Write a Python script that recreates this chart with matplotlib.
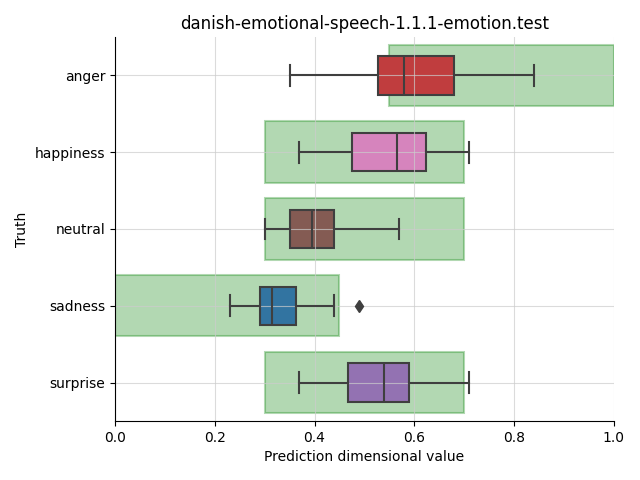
import matplotlib
matplotlib.use("Agg")
import matplotlib.pyplot as plt
import matplotlib.colors as mcolors
import colorsys

categories = ["anger", "happiness", "neutral", "sadness", "surprise"]
whislo = [0.351, 0.369, 0.300, 0.230, 0.369]
q1 = [0.528, 0.475, 0.350, 0.290, 0.468]
med = [0.579, 0.565, 0.395, 0.314, 0.539]
q3 = [0.679, 0.623, 0.440, 0.363, 0.590]
whishi = [0.840, 0.709, 0.569, 0.439, 0.709]
fliers = [[], [], [], [0.490], []]
range_lo = [0.55, 0.30, 0.30, 0.00, 0.30]
range_hi = [1.00, 0.70, 0.70, 0.45, 0.70]
base_colors = ["#d62728", "#e377c2", "#8c564b", "#1f77b4", "#9467bd"]


def desat(c, p=0.75):
    r, g, b = mcolors.to_rgb(c)
    h, l, s = colorsys.rgb_to_hls(r, g, b)
    return colorsys.hls_to_rgb(h, l, s * p)


fig, ax = plt.subplots(figsize=(6.4, 4.8), dpi=100)
fig.subplots_adjust(left=0.1797, right=0.959, bottom=0.123, top=0.923)

for i in range(len(categories)):
    ax.add_patch(plt.Rectangle((range_lo[i], i - 0.4), range_hi[i] - range_lo[i], 0.8,
                               facecolor="green", edgecolor="green", alpha=0.3,
                               linewidth=1.5, zorder=0.5))

stats = []
for i, c in enumerate(categories):
    stats.append(dict(label=c, whislo=whislo[i], q1=q1[i], med=med[i], q3=q3[i],
                      whishi=whishi[i], fliers=fliers[i]))

gray = "#3f3f3f"
bp = ax.bxp(stats, positions=range(len(categories)), vert=False, widths=0.5,
            capwidths=0.27, patch_artist=True, showfliers=True,
            boxprops=dict(edgecolor=gray, linewidth=1.5),
            whiskerprops=dict(color=gray, linewidth=1.5),
            capprops=dict(color=gray, linewidth=1.5),
            medianprops=dict(color=gray, linewidth=1.5),
            flierprops=dict(marker="d", markerfacecolor=gray, markeredgecolor=gray,
                            markersize=6))
for patch, c in zip(bp["boxes"], base_colors):
    patch.set_facecolor(desat(c))
    patch.set_zorder(1)
for key in ("whiskers", "caps", "medians", "fliers"):
    for ln in bp[key]:
        ln.set_zorder(2)

ax.set_axisbelow("line")
ax.grid(True, color="#cccccc", alpha=0.7, linewidth=0.8)
ax.set_xlim(0, 1)
ax.set_ylim(4.5, -0.5)
ax.set_yticks(range(len(categories)))
ax.set_yticklabels(categories)
ax.spines["top"].set_visible(False)
ax.spines["right"].set_visible(False)
for s in ("left", "bottom"):
    ax.spines[s].set_zorder(5)
ax.set_title("danish-emotional-speech-1.1.1-emotion.test")
ax.set_xlabel("Prediction dimensional value")
ax.set_ylabel("Truth")

fig.savefig("out.png", dpi=100)
